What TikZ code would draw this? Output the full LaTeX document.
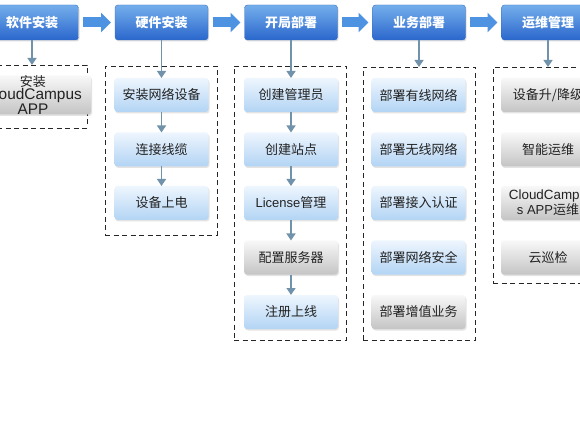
\documentclass[tikz,border=0pt]{standalone}
\usepackage{fontspec}
\setmainfont{Noto Sans CJK SC}
\newfontfamily\lat{Liberation Sans}
\usetikzlibrary{arrows.meta,shadows}
\definecolor{hdtop}{HTML}{74AEEC}
\definecolor{hdbot}{HTML}{2A67CC}
\definecolor{hdline}{HTML}{3A70C0}
\definecolor{bltop}{HTML}{EEF6FE}
\definecolor{blbot}{HTML}{B2D4F4}
\definecolor{grtop}{HTML}{F8F8F8}
\definecolor{grbot}{HTML}{C4C4C4}
\definecolor{conncol}{HTML}{7092AA}
\definecolor{harcol}{HTML}{4E93E2}
\definecolor{txt}{HTML}{222222}
\begin{document}
\begin{tikzpicture}[x=1pt,y=-1pt,
  hdr/.style={rectangle, rounded corners=3pt, inner sep=0pt, outer sep=0pt,
    minimum width=93pt, minimum height=35pt, top color=hdtop, bottom color=hdbot,
    draw=hdline, line width=0.4pt, text=white,
    font=\bfseries\fontsize{13}{13}\selectfont,
    drop shadow={opacity=0.25, shadow xshift=1pt, shadow yshift=-1.5pt}},
  bbox/.style={rectangle, rounded corners=3pt, inner sep=0pt, outer sep=0pt,
    minimum width=94pt, minimum height=34pt, top color=bltop, bottom color=blbot,
    text=txt, align=center, font=\fontsize{13}{11}\selectfont,
    drop shadow={opacity=0.22, shadow xshift=1pt, shadow yshift=-1.5pt}},
  gbox/.style={bbox, top color=grtop, bottom color=grbot},
  dbox/.style={rectangle, draw=black!85, dash pattern=on 5pt off 3.5pt,
    line width=0.9pt, inner sep=0pt, outer sep=0pt},
  conn/.style={draw=conncol, line width=1.3pt, -{Triangle[width=9pt,length=7pt]}},
  harrow/.style={draw=harcol, line width=10pt, -{Triangle[width=19pt,length=10pt]},
    shorten <=4.5pt, shorten >=4pt}
]
\useasboundingbox (0,0) rectangle (580,435);
\clip (0,0) rectangle (580,435);
\fill[white] (0,0) rectangle (580,435);

% dashed frames
\node[dbox, minimum width=107pt, minimum height=63pt] (d1) at (33.5,96.5) {};
\node[dbox, minimum width=112pt, minimum height=169pt] (d2) at (161,150.5) {};
\node[dbox, minimum width=112pt, minimum height=274pt] (d3) at (290,203) {};
\node[dbox, minimum width=112pt, minimum height=273pt] (d4) at (419,203.5) {};
\node[dbox, minimum width=112pt, minimum height=216pt] (d5) at (549,175) {};

% headers
\node[hdr] (h1) at (32,22.5) {软件安装};
\node[hdr] (h2) at (161.5,22.5) {硬件安装};
\node[hdr] (h3) at (291,22.5) {开局部署};
\node[hdr] (h4) at (419,22.5) {业务部署};
\node[hdr] (h5) at (548,22.5) {运维管理};

\draw[harrow] (h1.east) -- (h2.west);
\draw[harrow] (h2.east) -- (h3.west);
\draw[harrow] (h3.east) -- (h4.west);
\draw[harrow] (h4.east) -- (h5.west);

% column 1
\node[gbox, minimum width=116pt, minimum height=39pt, font=\fontsize{13}{11.5}\selectfont] (b11) at (33,95) {安装\\{\lat\fontsize{15.4}{11.5}\selectfont CloudCampus}\\{\lat\fontsize{15.4}{11.5}\selectfont APP}};

% column 2
\node[bbox] (b21) at (161.5,95) {安装网络设备};
\node[bbox] (b22) at (161.5,149.5) {连接线缆};
\node[bbox] (b23) at (161.5,203) {设备上电};

% column 3
\node[bbox] (b31) at (291,95) {创建管理员};
\node[bbox] (b32) at (291,149.5) {创建站点};
\node[bbox] (b33) at (291,203) {{\lat License}管理};
\node[gbox] (b34) at (291,257.5) {配置服务器};
\node[bbox] (b35) at (291,312) {注册上线};

% column 4
\node[bbox] (b41) at (418.5,95) {部署有线网络};
\node[bbox] (b42) at (418.5,149.5) {部署无线网络};
\node[bbox] (b43) at (418.5,203) {部署接入认证};
\node[bbox] (b44) at (418.5,257.5) {部署网络安全};
\node[gbox] (b45) at (418.5,312) {部署增值业务};

% column 5
\node[gbox] (b51) at (548,95) {设备升/降级};
\node[gbox] (b52) at (548,149.5) {智能运维};
\node[gbox] (b53) at (548,203) {{\lat\fontsize{13.4}{11}\selectfont CloudCampu}\\{\lat s APP}运维};
\node[gbox] (b54) at (548,257.5) {云巡检};

% connectors
\draw[conn] (h1.south) -- (h1.south |- d1.north);
\draw[conn] (h2.south) -- (b21.north);
\draw[conn] (b21.south) -- (b22.north);
\draw[conn] (b22.south) -- (b23.north);
\draw[conn] (h3.south) -- (b31.north);
\draw[conn] (b31.south) -- (b32.north);
\draw[conn] (b32.south) -- (b33.north);
\draw[conn] (b33.south) -- (b34.north);
\draw[conn] (b34.south) -- (b35.north);
\draw[conn] (h4.south) -- (d4.north);
\draw[conn] (h5.south) -- (h5.south |- d5.north);
\end{tikzpicture}
\end{document}
